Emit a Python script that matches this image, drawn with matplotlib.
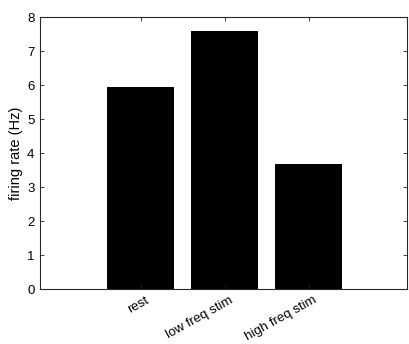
import matplotlib
matplotlib.use('Agg')
import matplotlib.pyplot as plt
import matplotlib.transforms as mtransforms

plt.rcParams['font.family'] = ['Liberation Sans', 'DejaVu Sans']

conditions = ['rest', 'low freq stim', 'high freq stim']
rates = [5.94, 7.6, 3.67]
positions = [1, 2, 3]

fig = plt.figure(figsize=(4.09, 3.44), dpi=100)
ax = fig.add_axes([40/409, 1 - 289/344, 367/409, 272/344])
ax.bar(positions, rates, width=0.8, color='black')
ax.set_xlim(-0.2, 4.17)
ax.set_ylim(0, 8)
ax.set_xticks(positions)
ax.set_xticklabels(conditions, rotation=29, ha='right', rotation_mode='anchor', fontsize=9.5)
ax.set_yticks(range(0, 9))
ax.tick_params(axis='y', labelsize=9.5, pad=4)
ax.set_ylabel('firing rate (Hz)', fontsize=10.5, labelpad=3)
ax.tick_params(direction='in', top=True, right=True, length=3, color='#262626', width=0.6)
for s in ax.spines.values():
    s.set_color('#262626')
    s.set_linewidth(0.8)

shift = mtransforms.ScaledTranslation(4/100, -0.5/100, fig.dpi_scale_trans)
for lab in ax.get_xticklabels():
    lab.set_transform(lab.get_transform() + shift)

fig.savefig('out.png', dpi=100)
